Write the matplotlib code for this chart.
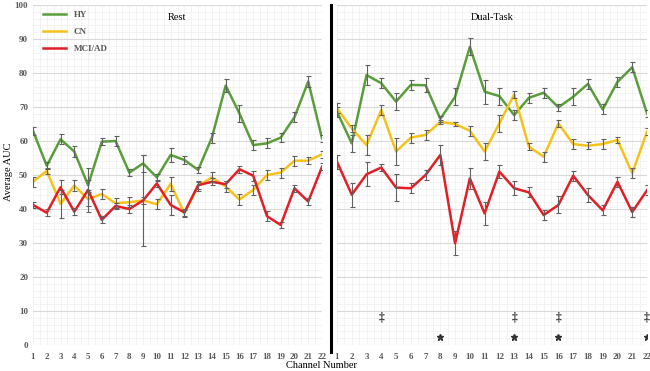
import numpy as np
import matplotlib
matplotlib.use('Agg')
import matplotlib.pyplot as plt
from matplotlib.lines import Line2D

plt.rcParams['font.family'] = ['Liberation Serif', 'DejaVu Serif']

channels = np.arange(1, 23)

# Rest
rest_hy = [63, 52.7, 60.5, 56.9, 47, 59.8, 60, 50.7, 53.4, 49.3, 55.9, 54.4,
           51.5, 61, 76.3, 68.1, 58.8, 59.3, 61, 67, 77.5, 60.8]
rest_hy_err = [1.2, 1, 1.5, 1.5, 1.5, 1, 1.5, 1, 2.5, 1, 2, 1.3,
               1, 1.5, 2, 2.5, 1.5, 1.5, 1.3, 1.5, 1.5, 1]
rest_cn = [48, 51.2, 41.5, 46.9, 42.9, 44.4, 41.7, 42, 42.5, 41.4, 47.4, 38.7,
           46.8, 49.3, 46.6, 42.8, 45.6, 50, 50.7, 54.2, 54.2, 56.1]
rest_cn_err = [1.5, 1, 4, 1.5, 2, 1.5, 1.5, 1.5, 13.5, 1.5, 2, 1,
               1.5, 1.5, 1.5, 1.5, 1.5, 1.5, 1.5, 1.5, 1, 1]
rest_mci = [41.2, 38.9, 46.4, 39.2, 45.6, 36.8, 40.9, 40, 42.5, 47.5, 41.2, 39,
            47, 48, 47.3, 51.7, 49.8, 37.9, 35.3, 46.1, 42.2, 52.4]
rest_mci_err = [1, 1, 2, 1, 6.5, 1, 1, 1.2, 1, 1, 3, 1,
                1, 1, 1, 1, 1.5, 1.5, 1, 1, 1, 1]

# Dual-Task
dual_hy = [68.6, 59.3, 79.4, 77, 71.6, 76.5, 76.4, 66.5, 73, 87.7, 74.5, 73.2,
           67.6, 72.7, 74.2, 69.9, 73, 76.8, 69.3, 77.4, 81.7, 68.1]
dual_hy_err = [1.5, 2.5, 3, 1.5, 2.5, 1.5, 2, 1, 2.5, 2.5, 3.5, 2.5,
               1.5, 1.5, 1.5, 1, 2.5, 1.5, 1.5, 1.5, 1.5, 1]
dual_cn = [69.6, 63.7, 58.8, 69.1, 56.9, 61, 61.8, 65.6, 65, 63, 56.9, 65.2,
           73.7, 58.3, 55.4, 65.2, 59.1, 58.6, 59.1, 60.3, 50.5, 62.7]
dual_cn_err = [1.5, 1, 3, 1.5, 4, 1.5, 1.5, 0.5, 0.5, 1.5, 2.5, 2.5,
               1, 1, 1.5, 1, 1.5, 1, 1.5, 1, 1.5, 1]
dual_mci = [53.9, 44.2, 50.2, 52.2, 46.3, 46.1, 50, 55.9, 29.9, 49, 38.7, 51,
            46.1, 44.9, 38.2, 41.2, 49.8, 44.1, 39.6, 48, 39.1, 45.5]
dual_mci_err = [2, 3.5, 3.5, 1, 4, 1.5, 1.5, 3, 3.5, 3, 3.5, 2,
                2, 1.5, 1.5, 2.5, 1.5, 2, 1.5, 1.5, 1.5, 1.5]

# significance marks (dual task)
dagger_ch = [4, 13, 16, 22]
dagger_y = 8
star_ch = [8, 13, 16, 22]
star_y = 2.3

GREEN = '#5a9e3c'
YELLOW = '#f5c21b'
RED = '#e21f26'
TICK = '#595959'

fig = plt.figure(figsize=(6.5, 3.71), dpi=100)
W, H = 650, 371
ax1 = fig.add_axes([33 / W, 26 / H, 289 / W, 340 / H])
ax2 = fig.add_axes([337 / W, 26 / H, 310 / W, 340 / H])


def draw(ax, hy, hy_e, cn, cn_e, mci, mci_e, title):
    ax.set_xlim(1, 22)
    ax.set_ylim(0, 100)
    ax.set_yticks(np.arange(0, 101, 10))
    ax.set_yticks(np.arange(0, 101, 2), minor=True)
    ax.set_xticks(channels)
    ax.set_xticks(np.arange(1, 22.01, 0.5), minor=True)
    ax.grid(which='major', axis='y', color='#d9d9d9', lw=0.8)
    ax.grid(which='minor', color='#efefef', lw=0.5)
    ax.grid(which='major', axis='x', color='#efefef', lw=0.5)
    ax.set_axisbelow(True)
    for s in ax.spines.values():
        s.set_visible(False)
    ax.tick_params(which='both', length=0, labelsize=6.5, labelcolor=TICK)
    ax.tick_params(axis='x', pad=6)
    for lab in ax.get_xticklabels() + ax.get_yticklabels():
        lab.set_fontweight('bold')
    for y, e, c, lab in [(hy, hy_e, GREEN, 'HY'), (cn, cn_e, YELLOW, 'CN'),
                         (mci, mci_e, RED, 'MCI/AD')]:
        ax.plot(channels, y, color=c, lw=1.8, label=lab, zorder=3)
        ax.errorbar(channels, y, yerr=e, fmt='none', ecolor='#606060',
                    elinewidth=0.8, capsize=1.8, capthick=0.8, zorder=4)
    ax.set_title(title, fontsize=7.5, y=0.955, pad=0)


draw(ax1, rest_hy, rest_hy_err, rest_cn, rest_cn_err, rest_mci, rest_mci_err, 'Rest')
draw(ax2, dual_hy, dual_hy_err, dual_cn, dual_cn_err, dual_mci, dual_mci_err, 'Dual-Task')
ax2.tick_params(axis='y', labelleft=False)

for ch in dagger_ch:
    ax2.text(ch, dagger_y, '‡', ha='center', va='center', fontsize=8.5,
             fontweight='bold', color='#333333', zorder=5)
ax2.plot(star_ch, [star_y] * len(star_ch), ls='none', marker='*', ms=4.5,
         color='#333333', zorder=5)

leg = ax1.legend(loc='upper left', frameon=False,
                 prop={'weight': 'bold', 'size': 6.5}, labelspacing=1.0,
                 handlelength=2.6, borderaxespad=0.2)
leg.set_bbox_to_anchor((0.015, 1.0))
for t in leg.get_texts():
    t.set_color(TICK)

fig.text(9 / W, 1 - 172 / H, 'Average AUC', rotation=90, ha='center',
         va='center', fontsize=7.5)
fig.text(322 / W, 1 - 366 / H, 'Channel Number', ha='center', va='center',
         fontsize=7.5)

fig.add_artist(Line2D([331 / W, 331 / W], [1 - 5 / H, 1 - 352 / H],
                      transform=fig.transFigure, color='black', lw=2.2))

fig.savefig('out.png', dpi=100)
